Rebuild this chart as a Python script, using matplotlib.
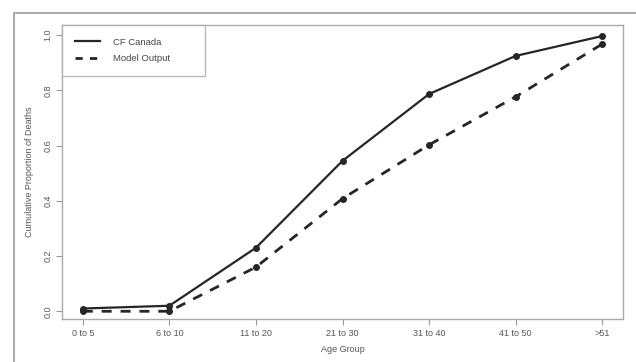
import matplotlib
matplotlib.use("Agg")
import matplotlib.pyplot as plt
from matplotlib.patches import Rectangle

age_groups = ["0 to 5", "6 to 10", "11 to 20", "21 to 30", "31 to 40", "41 to 50", ">51"]
cf_canada = [0.01, 0.02, 0.23, 0.545, 0.787, 0.925, 0.997]
model_output = [0.0, 0.0, 0.16, 0.408, 0.603, 0.777, 0.968]

plt.rcParams['font.family'] = ['Liberation Sans', 'DejaVu Sans']

fig = plt.figure(figsize=(6.36, 3.62), dpi=100)
fig.patch.set_facecolor('white')

# outer frame of the scanned figure
fig.patches.append(Rectangle((14 / 636, -0.1), 1.2, 1 - 13 / 362 + 0.1,
                             transform=fig.transFigure, fill=False,
                             edgecolor='#9a9a9a', linewidth=1.2))

ax = fig.add_axes([62 / 636, 1 - 319 / 362, (623 - 62) / 636, (319 - 25) / 362])
x = range(1, len(age_groups) + 1)

line_col = '#262626'
ax.plot(x, cf_canada, color=line_col, lw=1.6, marker='o', ms=4,
        label='CF Canada')
ax.plot(x, model_output, color=line_col, lw=2.0, ls=(0, (3.6, 3.2)),
        marker='o', ms=4, label='Model Output')

ax.set_xlim(0.76, 7.24)
ax.set_ylim(-0.028, 1.037)
ax.set_xticks(list(x))
ax.set_xticklabels(age_groups)
ax.set_yticks([0.0, 0.2, 0.4, 0.6, 0.8, 1.0])
ax.set_yticklabels(['0.0', '0.2', '0.4', '0.6', '0.8', '1.0'], rotation=90, va='center')

txt_col = '#555555'
ax.tick_params(axis='both', labelsize=6.5, colors='#999999', labelcolor=txt_col,
               length=4, width=0.8)
ax.tick_params(axis='y', pad=3)
ax.tick_params(axis='x', pad=3)
for s in ax.spines.values():
    s.set_color('#aaaaaa')
    s.set_linewidth(1.0)

ax.set_xlabel('Age Group', fontsize=6.5, color=txt_col, labelpad=5)
ax.set_ylabel('Cumulative Proportion of Deaths', fontsize=6.5, color=txt_col, labelpad=7)

leg_w = (205 - 62) / 561
leg_h = (73 - 25) / 294
leg = ax.legend(loc='upper left', bbox_to_anchor=(0, 1 - leg_h, leg_w, leg_h),
                mode='expand', fontsize=6.8,
                frameon=True, fancybox=False, borderaxespad=0,
                handlelength=2.7, handletextpad=1.4, borderpad=1.35,
                labelspacing=0.75)
leg.get_frame().set_edgecolor('#aaaaaa')
leg.get_frame().set_linewidth(1.0)
for t in leg.get_texts():
    t.set_color('#444444')
for h in leg.legend_handles:
    h.set_marker('')
leg.legend_handles[1].set_linestyle((0, (2.6, 2.6)))

fig.savefig('out.png', dpi=100)
